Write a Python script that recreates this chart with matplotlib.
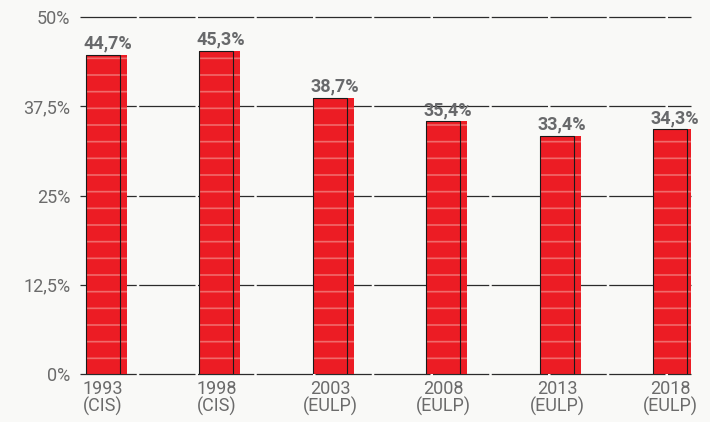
import matplotlib.pyplot as plt
import numpy as np

plt.rcParams['font.family'] = ['Roboto', 'DejaVu Sans']
plt.rcParams['hatch.linewidth'] = 1.2

# datos
anios = ['1993\n(CIS)', '1998\n(CIS)', '2003\n(EULP)', '2008\n(EULP)', '2013\n(EULP)', '2018\n(EULP)']
valores = [44.7, 45.3, 38.7, 35.4, 33.4, 34.3]
etiquetas = ['44,7%', '45,3%', '38,7%', '35,4%', '33,4%', '34,3%']
ticks_y = [0, 12.5, 25, 37.5, 50]
ticks_y_txt = ['0%', '12,5%', '25%', '37,5%', '50%']

fig = plt.figure(figsize=(7.1, 4.22), dpi=100)
fig.patch.set_facecolor('#f9f9f7')
ax = fig.add_axes([0.113, 0.1137, 0.86, 0.846])
ax.set_facecolor('#f9f9f7')

x = np.arange(len(valores))

# lineas de la grilla
for t in ticks_y:
    ax.axhline(t, color='#2b2b2b', lw=0.9, ls=(0, (45, 2)), zorder=1, clip_on=False)

# barras rojas "pintadas" + contorno fino
ax.bar(x + 0.03, valores, width=0.36, color='#ec1c24', hatch='-',
       edgecolor='#f06a6a', linewidth=0, zorder=2)
ax.bar(x, valores, width=0.3, facecolor='none', edgecolor='#1a1a1a',
       linewidth=0.8, zorder=3)

for xi, v, txt in zip(x, valores, etiquetas):
    ax.text(xi + 0.04, v + 0.3, txt, ha='center', va='bottom', fontsize=13,
            fontweight='bold', color='#68696b', zorder=4)

ax.set_xlim(-0.2, 5.18)
ax.set_ylim(0, 50)
ax.set_yticks(ticks_y)
ax.set_yticklabels(ticks_y_txt)
ax.set_xticks(x)
ax.set_xticklabels(anios)
ax.tick_params(axis='both', length=0, labelsize=13, labelcolor='#6b6b6b', pad=4)
ax.tick_params(axis='y', pad=7)
for lab in ax.get_xticklabels():
    lab.set_linespacing(0.95)
for s in ax.spines.values():
    s.set_visible(False)

plt.savefig('out.png', dpi=100, facecolor=fig.get_facecolor())
